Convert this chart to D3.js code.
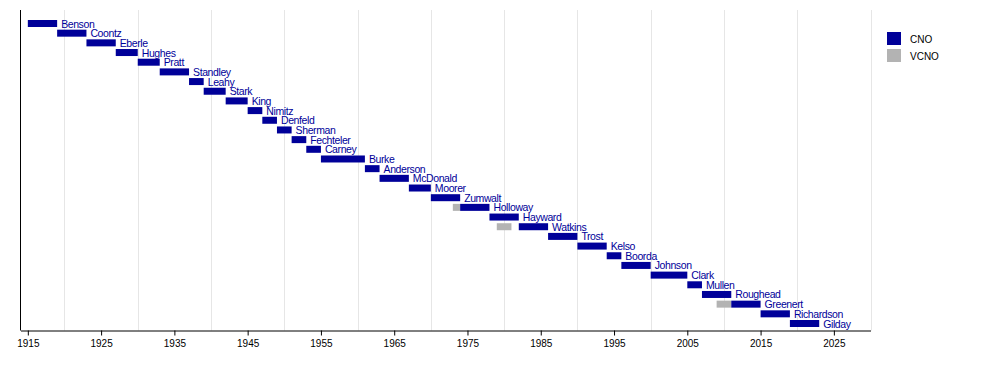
<!DOCTYPE html>
<html>
<head>
<meta charset="utf-8">
<script src="https://cdn.jsdelivr.net/npm/d3@7"></script>
<style>
  body { margin: 0; background: #fff; }
  svg { display: block; font-family: "Liberation Sans", Arial, sans-serif; }
</style>
</head>
<body>
<svg id="chart"></svg>
<script>
const width = 1000,
      height = 380;

// CNO terms (start year, end year)
const names = ["Benson", "Coontz", "Eberle", "Hughes", "Pratt", "Standley", "Leahy", "Stark",
  "King", "Nimitz", "Denfeld", "Sherman", "Fechteler", "Carney", "Burke", "Anderson",
  "McDonald", "Moorer", "Zumwalt", "Holloway", "Hayward", "Watkins", "Trost", "Kelso",
  "Boorda", "Johnson", "Clark", "Mullen", "Roughead", "Greenert", "Richardson", "Gilday"];
const cnoStart = [1915, 1919, 1923, 1927, 1930, 1933, 1937, 1939, 1942, 1945, 1947, 1949,
  1951, 1953, 1955, 1961, 1963, 1967, 1970, 1974, 1978, 1982, 1986, 1990, 1994, 1996,
  2000, 2005, 2007, 2011, 2015, 2019];
const cnoEnd = [1919, 1923, 1927, 1930, 1933, 1937, 1939, 1942, 1945, 1947, 1949, 1951,
  1953, 1955, 1961, 1963, 1967, 1970, 1974, 1978, 1982, 1986, 1990, 1994, 1996, 2000,
  2005, 2007, 2011, 2015, 2019, 2023];

// VCNO terms shown for a few rows
const vcnoNames = ["Holloway", "Watkins", "Greenert"];
const vcnoStart = [1973, 1979, 2009];
const vcnoEnd = [1974, 1981, 2011];

const tickYears = [1915, 1925, 1935, 1945, 1955, 1965, 1975, 1985, 1995, 2005, 2015, 2025];
const gridYears = [1920, 1930, 1940, 1950, 1960, 1970, 1980, 1990, 2000, 2010, 2020, 2030];

const legendLabels = ["CNO", "VCNO"];
const legendColors = ["#000099", "#b3b3b3"];

const cno = names.map((n, i) => ({ name: n, start: cnoStart[i], end: cnoEnd[i] }));
const vcno = vcnoNames.map((n, i) => ({ name: n, start: vcnoStart[i], end: vcnoEnd[i] }));

const svg = d3.select("#chart")
  .attr("width", width)
  .attr("height", height);

const x = d3.scaleLinear()
  .domain([1914, 2030])
  .range([20.5, 870.5]);

const y = d3.scalePoint()
  .domain(names)
  .range([23.5, 323.5]);

const plotTop = 10, plotBottom = 330.5, barH = 7;

// grid
svg.append("g")
  .selectAll("line")
  .data(gridYears)
  .join("line")
  .attr("x1", d => Math.round(x(d)) + 0.5)
  .attr("x2", d => Math.round(x(d)) + 0.5)
  .attr("y1", plotTop)
  .attr("y2", plotBottom)
  .attr("stroke", "#e6e6e6")
  .attr("stroke-width", 1);

// bars
svg.append("g")
  .selectAll("rect")
  .data(vcno)
  .join("rect")
  .attr("x", d => x(d.start))
  .attr("width", d => x(d.end) - x(d.start))
  .attr("y", d => y(d.name) - barH / 2)
  .attr("height", barH)
  .attr("fill", legendColors[1]);

svg.append("g")
  .selectAll("rect")
  .data(cno)
  .join("rect")
  .attr("x", d => x(d.start))
  .attr("width", d => x(d.end) - x(d.start))
  .attr("y", d => y(d.name) - barH / 2)
  .attr("height", barH)
  .attr("fill", legendColors[0]);

svg.append("g")
  .selectAll("text")
  .data(cno)
  .join("text")
  .attr("x", d => x(d.end) + 4)
  .attr("y", d => y(d.name) + 4)
  .attr("font-size", 10.5)
  .attr("letter-spacing", -0.4)
  .attr("fill", legendColors[0])
  .text(d => d.name);

// axes
const xAxis = d3.axisBottom(x)
  .tickValues(tickYears)
  .tickFormat(d3.format("d"))
  .tickSize(5)
  .tickPadding(4)
  .tickSizeOuter(0);

const gx = svg.append("g")
  .attr("transform", `translate(0,${plotBottom})`)
  .call(xAxis);
gx.select(".domain").attr("stroke", "#000");
gx.selectAll(".tick line").attr("stroke", "#000");
gx.selectAll(".tick text")
  .attr("font-size", 10)
  .attr("font-family", "Liberation Sans, Arial, sans-serif")
  .attr("fill", "#000");

svg.append("line")
  .attr("x1", 20.5).attr("x2", 20.5)
  .attr("y1", plotTop).attr("y2", plotBottom)
  .attr("stroke", "#000");

// legend
const legend = svg.append("g")
  .attr("transform", "translate(887,32)");
const li = legend.selectAll("g")
  .data(legendLabels)
  .join("g")
  .attr("transform", (d, i) => `translate(0,${i * 17})`);
li.append("rect")
  .attr("width", 14)
  .attr("height", 13)
  .attr("fill", (d, i) => legendColors[i]);
li.append("text")
  .attr("x", 23)
  .attr("y", 10.5)
  .attr("font-size", 10)
  .attr("fill", "#000")
  .text(d => d);
</script>
</body>
</html>
